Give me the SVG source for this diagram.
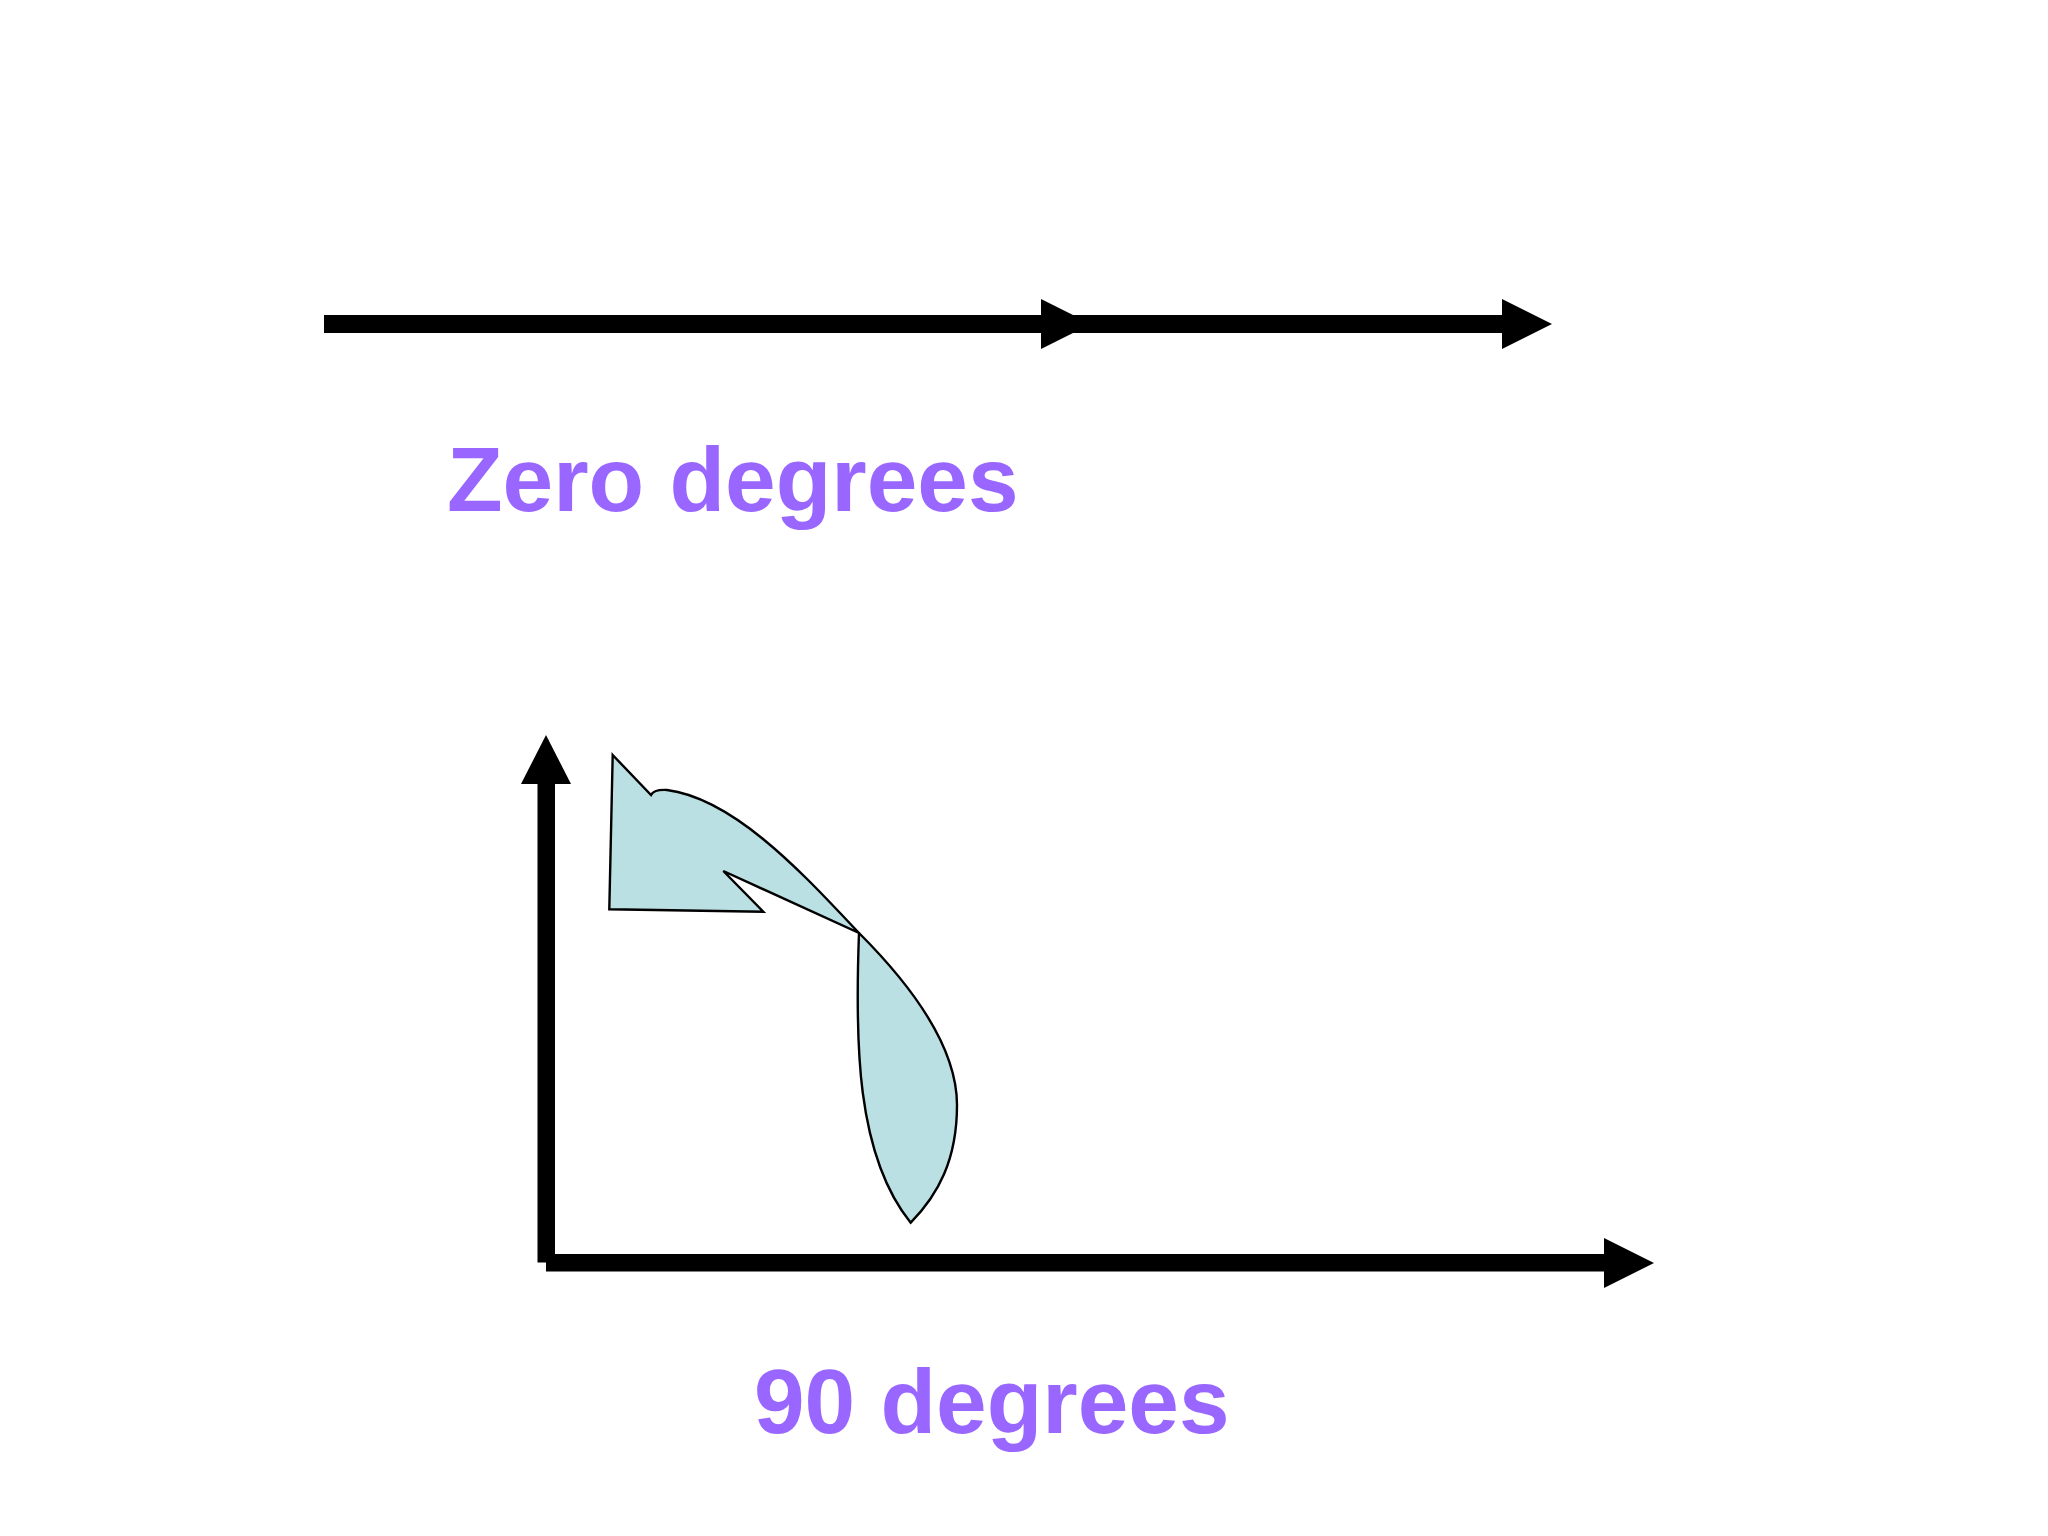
<svg xmlns="http://www.w3.org/2000/svg" width="2048" height="1536" viewBox="0 0 2048 1536">
  <style>
    .shaft { fill: #000000; }
    .head { fill: #000000; }
    .label { font-family: "Liberation Sans", Arial, sans-serif; font-weight: bold; font-size: 91px; fill: #9966FF; }
    .petal { fill: #BBE0E3; stroke: #000000; stroke-width: 2.4; stroke-linejoin: miter; }
  </style>
  <rect x="0" y="0" width="2048" height="1536" fill="#FFFFFF"/>

  <g id="connectors">
    <g id="zero-axis">
      <rect class="shaft" x="324" y="315" width="1180" height="18"/>
      <polygon class="head" points="1041,299 1091,324 1041,349"/>
      <polygon class="head" points="1502,299 1552,324 1502,349"/>
    </g>
    <g id="y-axis">
      <rect class="shaft" x="537.5" y="782" width="17.5" height="480.5"/>
      <polygon class="head" points="521,784 546,735 571,784"/>
    </g>
    <g id="x-axis">
      <rect class="shaft" x="546" y="1254" width="1060" height="17.5"/>
      <polygon class="head" points="1604,1238 1654,1263 1604,1288"/>
    </g>
  </g>

  <g id="rotation-arrow">
    <path class="petal" d="M 612.7,755 L 651,795 C 653,791 658,789.5 667,790 C 737,799 809,880.5 859,933 C 909,983 957,1045 957,1105 C 957,1160 938,1195 910.7,1222.7 C 855.7,1154.7 855,1040 859,933 L 723.3,871 L 763.3,911.7 L 609.3,909.3 Z"/>
  </g>

  <g id="label-zero">
    <text class="label" x="447" y="511">Zero degrees</text>
  </g>
  <g id="label-ninety">
    <text class="label" x="754" y="1433">90 degrees</text>
  </g>
</svg>
